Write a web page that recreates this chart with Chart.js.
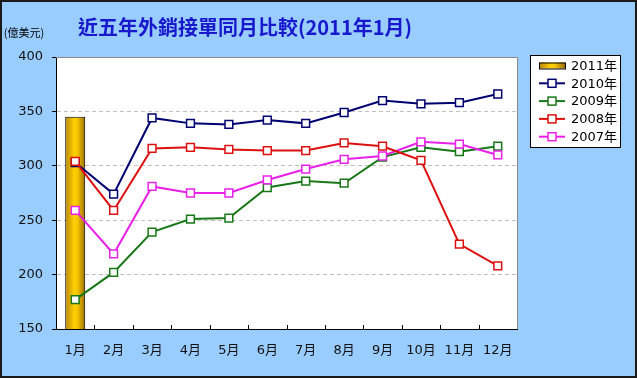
<!DOCTYPE html>
<html>
<head>
<meta charset="utf-8">
<script src="https://cdn.jsdelivr.net/npm/chart.js@4.4.1/dist/chart.umd.min.js"></script>
<style>
  html, body { margin: 0; padding: 0; background: #99ccff; }
  #wrap { width: 637px; height: 378px; }
</style>
</head>
<body>
<div id="wrap"><canvas id="orderChart" width="637" height="378"></canvas></div>
<script>
// 近五年外銷接單 (億美元)
const months = ['1月', '2月', '3月', '4月', '5月', '6月', '7月', '8月', '9月', '10月', '11月', '12月'];
const orders2011 = [345, null, null, null, null, null, null, null, null, null, null, null];
const orders2010 = [303, 274, 344, 339, 338, 342, 339, 349, 360, 357, 358, 366];
const orders2009 = [177, 202, 239, 251, 252, 280, 286, 284, 308, 317, 313, 318];
const orders2008 = [304, 259, 316, 317, 315, 314, 314, 321, 318, 305, 228, 208];
const orders2007 = [259, 219, 281, 275, 275, 287, 297, 306, 309, 322, 320, 310];
const yMin = 150, yMax = 400, yStep = 50;

const titleText = '近五年外銷接單同月比較(2011年1月)';
const unitText = '(億美元)';
const labelFont = '"DejaVu Sans", "Noto Sans CJK TC", sans-serif';

function goldGradient(ctx, x0, x1) {
    const g = ctx.createLinearGradient(x0, 0, x1, 0);
    g.addColorStop(0, '#b88400');
    g.addColorStop(0.45, '#ffd000');
    g.addColorStop(0.6, '#f8c800');
    g.addColorStop(1, '#9c6e00');
    return g;
}

const lineSet = (label, data, color, order) => ({
    type: 'line',
    label: label,
    data: data,
    borderColor: color,
    borderWidth: 2,
    pointStyle: 'rect',
    pointRadius: 5.5,
    pointBackgroundColor: '#ffffff',
    pointBorderColor: color,
    pointBorderWidth: 1.5,
    tension: 0,
    fill: false,
    order: order
});

const backdrop = {
    id: 'backdrop',
    beforeDraw(chart) {
        const { ctx, chartArea: a } = chart;
        ctx.save();
        ctx.fillStyle = '#99ccff';
        ctx.fillRect(0, 0, chart.width, chart.height);
        ctx.fillStyle = '#ffffff';
        ctx.fillRect(a.left, a.top, a.right - a.left, a.bottom - a.top);
        ctx.restore();
    },
    afterDraw(chart) {
        const { ctx, chartArea: a } = chart;
        const xs = chart.scales.x;
        ctx.save();
        // plot frame top/right
        ctx.strokeStyle = '#8a8a8a';
        ctx.lineWidth = 1;
        ctx.beginPath();
        ctx.moveTo(a.left, a.top + 0.5);
        ctx.lineTo(a.right + 0.5, a.top + 0.5);
        ctx.lineTo(a.right + 0.5, a.bottom);
        ctx.stroke();
        // inner ticks between months
        ctx.strokeStyle = '#000';
        ctx.beginPath();
        for (let i = 1; i < months.length; i++) {
            const x = Math.round(xs.getPixelForValue(i - 0.5)) + 0.5;
            ctx.moveTo(x, a.bottom);
            ctx.lineTo(x, a.bottom - 4);
        }
        ctx.stroke();

        // title + unit
        ctx.fillStyle = '#1818cc';
        ctx.font = 'bold 20px "Noto Sans CJK TC", sans-serif';
        ctx.textAlign = 'center';
        ctx.textBaseline = 'middle';
        ctx.fillText(titleText, 245, 27);
        ctx.fillStyle = '#000';
        ctx.font = '11px "Noto Sans CJK TC", sans-serif';
        ctx.fillText(unitText, 24, 33);

        // legend box
        const bx = 530.5, by = 55.5, bw = 90, bh = 92;
        ctx.fillStyle = '#fff';
        ctx.fillRect(bx, by, bw, bh);
        ctx.strokeStyle = '#000';
        ctx.strokeRect(bx, by, bw, bh);
        ctx.font = '13px ' + labelFont;
        ctx.textAlign = 'left';
        chart.data.datasets.forEach((ds, i) => {
            const cy = 65.5 + i * 17.8;
            if (ds.type === 'bar') {
                ctx.fillStyle = goldGradient(ctx, 539, 565);
                ctx.fillRect(539, cy - 3, 26, 6);
                ctx.strokeRect(539.5, cy - 2.5, 26, 6);
            } else {
                ctx.strokeStyle = ds.borderColor;
                ctx.lineWidth = 2;
                ctx.beginPath();
                ctx.moveTo(539, cy);
                ctx.lineTo(565, cy);
                ctx.stroke();
                ctx.fillStyle = '#fff';
                ctx.lineWidth = 1.5;
                ctx.fillRect(548, cy - 4, 8, 8);
                ctx.strokeRect(548, cy - 4, 8, 8);
                ctx.strokeStyle = '#000';
                ctx.lineWidth = 1;
            }
            ctx.fillStyle = '#000';
            ctx.fillText(ds.label, 571, cy + 1);
        });

        // outer frame
        ctx.strokeStyle = '#1a1a1a';
        ctx.lineWidth = 2;
        ctx.strokeRect(1, 1, chart.width - 2, chart.height - 2);
        ctx.restore();
    }
};

const chart = new Chart(document.getElementById('orderChart').getContext('2d'), {
    data: {
        labels: months,
        datasets: [
            {
                type: 'bar',
                label: '2011年',
                data: orders2011,
                backgroundColor: (c) => {
                    const xs = c.chart.scales.x;
                    if (!xs || !c.chart.chartArea) return '#f0c000';
                    const cx = xs.getPixelForValue(c.dataIndex);
                    const half = xs.width / months.length * 0.52 / 2;
                    return goldGradient(c.chart.ctx, cx - half, cx + half);
                },
                borderColor: '#000',
                borderWidth: 1,
                borderSkipped: 'bottom',
                barPercentage: 0.52,
                categoryPercentage: 1,
                order: 10
            },
            lineSet('2010年', orders2010, '#000070', 4),
            lineSet('2009年', orders2009, '#187818', 3),
            lineSet('2008年', orders2008, '#dd1010', 1),
            lineSet('2007年', orders2007, '#e820e8', 2)
        ]
    },
    options: {
        responsive: false,
        animation: false,
        layout: { padding: { left: 0, top: 57, right: 120, bottom: 0 } },
        plugins: {
            legend: { display: false },
            title: { display: false },
            tooltip: { enabled: false }
        },
        scales: {
            x: {
                offset: true,
                grid: { display: false },
                border: { display: true, color: '#000', width: 1 },
                ticks: { color: '#111', font: { family: labelFont, size: 13 }, padding: 6, maxRotation: 0 },
                afterFit: (s) => { s.height = 49; }
            },
            y: {
                min: yMin,
                max: yMax,
                ticks: { stepSize: yStep, color: '#111', font: { family: labelFont, size: 13 }, padding: 9 },
                grid: {
                    color: (c) => (c.tick.value === yMin || c.tick.value === yMax) ? 'rgba(0,0,0,0)' : '#c0c0c0',
                    tickColor: '#000',
                    tickLength: 4,
                    tickBorderDash: []
                },
                border: { display: true, color: '#000', width: 1, dash: [4, 3] },
                afterFit: (s) => { s.width = 56; }
            }
        }
    },
    plugins: [backdrop]
});
</script>
</body>
</html>
